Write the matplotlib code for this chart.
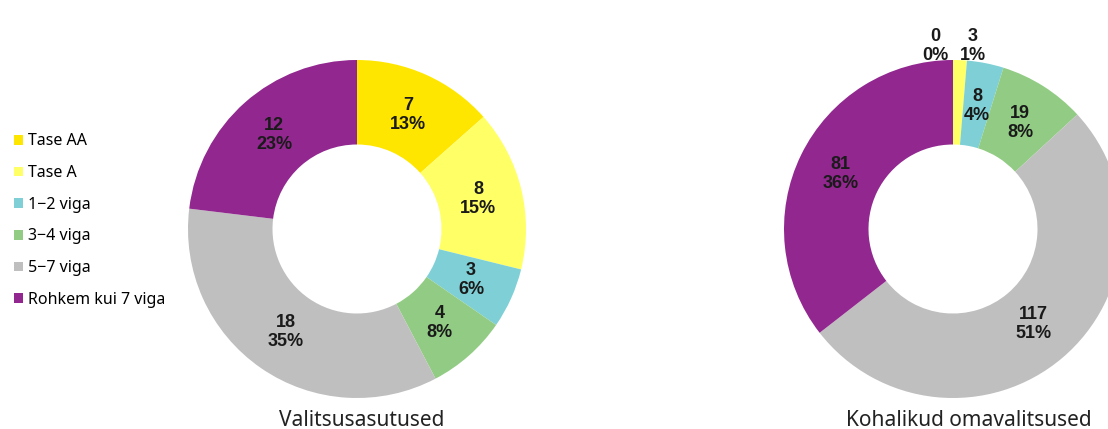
import math
import matplotlib.pyplot as plt

categories = ['Tase AA', 'Tase A', '1\u22122 viga', '3\u22124 viga', '5\u22127 viga', 'Rohkem kui 7 viga']
colors = ['#FFE600', '#FFFF66', '#7ED0D6', '#92CC84', '#BFBFBF', '#91278F']

gov_title = 'Valitsusasutused'
gov_values = [7, 8, 3, 4, 18, 12]
gov_pct = ['13%', '15%', '6%', '8%', '35%', '23%']

local_title = 'Kohalikud omavalitsused'
local_values = [0, 3, 8, 19, 117, 81]
local_pct = ['0%', '1%', '4%', '8%', '51%', '36%']

fig = plt.figure(figsize=(11.08, 4.29), dpi=100)
ax = fig.add_axes([0, 0, 1, 1])

R = 169
lab_font = dict(family='Liberation Sans', fontweight='bold', fontsize=13, color='#1a1a1a',
                ha='center', va='center', linespacing=1.15)


def donut(cx, cy, values, pcts, title, title_dx, outside_dx):
    wedges, _ = ax.pie(values, colors=colors, startangle=90, counterclock=False,
                       center=(cx, cy), radius=R, wedgeprops=dict(width=R * 0.5, linewidth=0),
                       frame=True)
    total = sum(values)
    acc = 0
    for i, v in enumerate(values):
        mid = (acc + v / 2) / total * 2 * math.pi
        acc += v
        txt = f'{v}\n{pcts[i]}'
        if v / total < 0.02:
            # tiny slices get their label above the ring
            ax.text(cx + outside_dx[i], cy + R + 14, txt, **lab_font)
        else:
            r = R * 0.74
            ax.text(cx + r * math.sin(mid), cy + r * math.cos(mid), txt, **lab_font)
    ax.text(cx + title_dx, 9, title, ha='center', va='center', fontsize=15,
            family='Noto Sans', color='#222222')
    return wedges


wedges = donut(357, 200, gov_values, gov_pct, gov_title, 5, [0] * 6)
donut(953, 200, local_values, local_pct, local_title, 16, [-18, 20, 0, 0, 0, 0])
ax.set_xlim(0, 1108)
ax.set_ylim(0, 429)
ax.set_aspect('auto')
ax.axis('off')

ax.legend(wedges, categories, loc='upper left', bbox_to_anchor=(8 / 1108, 1 - 127 / 429),
          frameon=False, prop=dict(family='Noto Sans', size=11.5),
          handlelength=0.55, handleheight=0.55, handletextpad=0.3, labelspacing=0.98,
          borderaxespad=0)

fig.savefig('out.png', dpi=100)
